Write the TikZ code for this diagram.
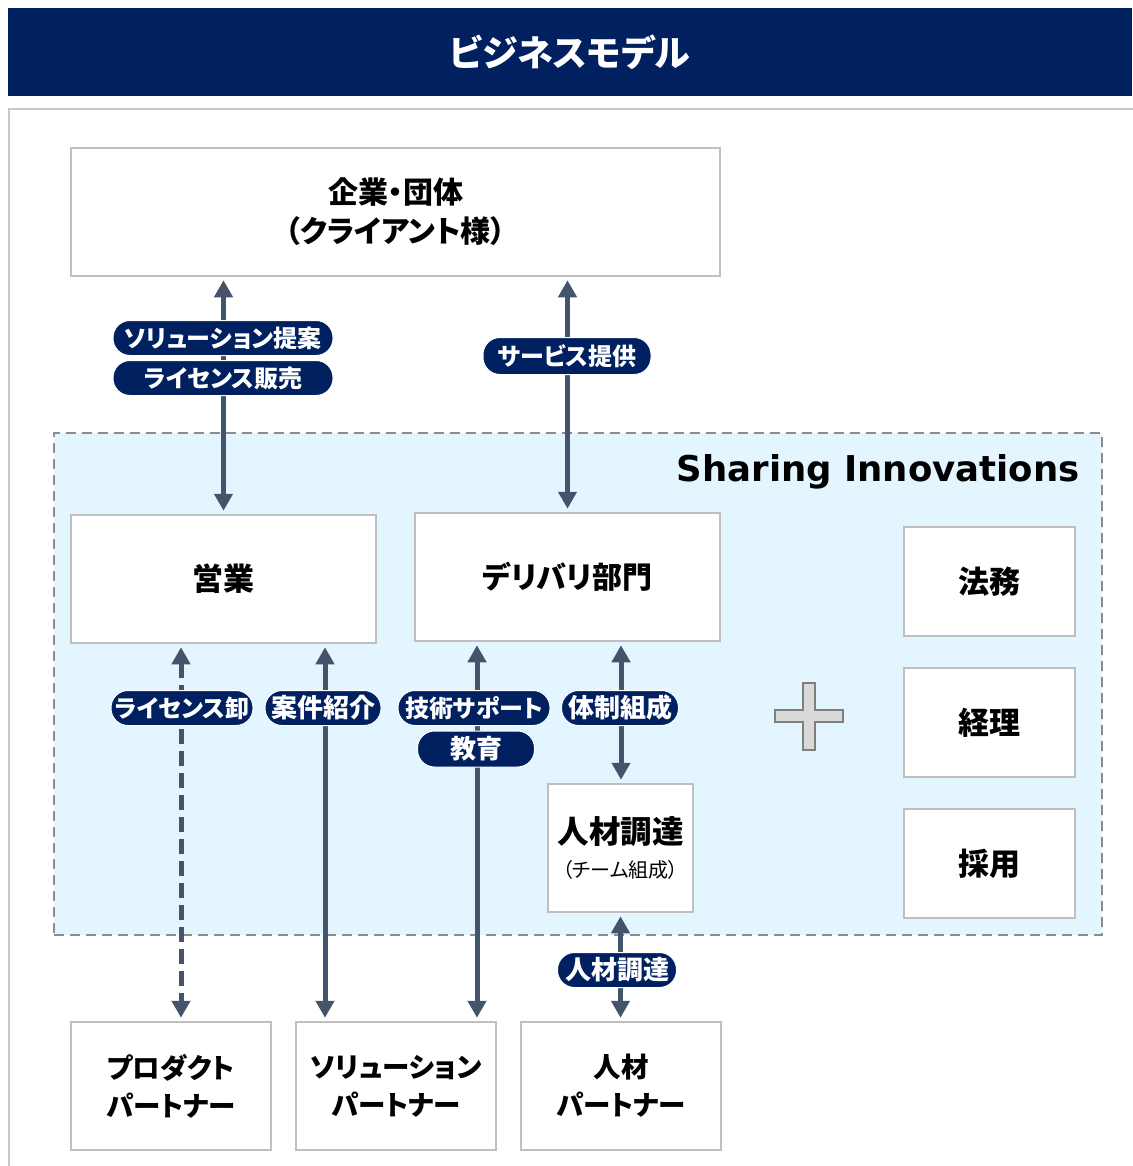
\documentclass[tikz,border=0pt]{standalone}
\usepackage{fontspec}
\setmainfont{Noto Sans CJK JP}[RawFeature=+palt]
\newfontfamily\latinfont{DejaVu Sans}
\usetikzlibrary{arrows.meta}
\definecolor{navy}{HTML}{002060}
\definecolor{arrowc}{HTML}{44546A}
\definecolor{boxgray}{HTML}{BFBFBF}
\definecolor{lightblue}{HTML}{E3F5FE}
\definecolor{dashgray}{HTML}{8C8C8C}
\definecolor{framegray}{HTML}{C8C8C8}
\definecolor{plusfill}{HTML}{D9D9D9}
\definecolor{plusdraw}{HTML}{7F7F7F}
\begin{document}
\begin{tikzpicture}[x=1pt,y=-1pt,
  box/.style={draw=boxgray,line width=2.5pt,fill=white,inner sep=0pt,align=center,
    font=\bfseries\fontsize{30}{39}\selectfont},
  bottombox/.style={box,minimum width=200pt,minimum height=128pt,font=\bfseries\fontsize{27.5}{38}\selectfont},
  sidebox/.style={box,minimum width=171pt,minimum height=109pt,font=\bfseries\fontsize{31}{39}\selectfont},
  pill/.style={fill=navy,draw=white,line width=1pt,rounded corners=17pt,text=white,
    font=\bfseries\fontsize{24}{28}\selectfont,inner sep=0pt,minimum height=35pt},
  kpill/.style={pill,font=\bfseries\fontsize{26}{28}\selectfont},
  arr/.style={draw=arrowc,line width=5pt,{Triangle[width=18pt,length=17pt]}-{Triangle[width=18pt,length=17pt]},
    shorten <=3pt,shorten >=3pt},
  dasharr/.style={arr,dash pattern=on 15pt off 7pt}
]
\useasboundingbox[fill=white] (0,0) rectangle (1132,1166);
% outer frame
\draw[framegray,line width=2.5pt] (9,1170) -- (9,109) -- (1140,109);
% title
\node[fill=navy,minimum width=1124pt,minimum height=88pt,inner sep=0pt,text=white,
  font=\bfseries\fontsize{36}{40}\selectfont] (title) at (570,52) {ビジネスモデル};
% company region
\node[draw=dashgray,line width=2.5pt,dash pattern=on 10pt off 6pt,fill=lightblue,
  minimum width=1048pt,minimum height=502pt,inner sep=0pt] (si) at (578,684) {};
\node[anchor=base east,font=\latinfont\bfseries\fontsize{35.5}{40}\selectfont] (silabel) at (1083,481) {Sharing Innovations};
% boxes
\node[box,minimum width=649pt,minimum height=128pt] (client) at (395.5,212) {企業・団体\\（クライアント様）};
\node[box,minimum width=305pt,minimum height=128pt,font=\bfseries\fontsize{31}{39}\selectfont] (sales) at (223.5,579) {営業};
\node[box,minimum width=305pt,minimum height=128pt] (deliv) at (567.5,577) {デリバリ部門};
\node[sidebox] (legal) at (989.5,581.5) {法務};
\node[sidebox] (acct) at (989.5,722.5) {経理};
\node[sidebox] (hire) at (989.5,863.5) {採用};
\node[box,minimum width=145pt,minimum height=128pt,font=\fontsize{20}{34}\selectfont] (jinzai) at (620.5,848)
  {{\bfseries\fontsize{31.5}{34}\selectfont 人材調達}\\{\mdseries\fontsize{20}{34}\selectfont （チーム組成）}};
\node[bottombox] (prod) at (171,1086) {プロダクト\\パートナー};
\node[bottombox] (sol) at (396,1086) {ソリューション\\パートナー};
\node[bottombox] (jpp) at (621,1086) {人材\\パートナー};
% plus sign
\draw[fill=plusfill,draw=plusdraw,line width=1.5pt] (775,710) -- (803,710) -- (803,683) -- (815,683)
  -- (815,710) -- (843,710) -- (843,722) -- (815,722) -- (815,750) -- (803,750) -- (803,722)
  -- (775,722) -- cycle;
% connectors
\draw[arr] (client.south -| sales.north) -- (sales.north);
\draw[arr] (client.south -| deliv.north) -- (deliv.north);
\draw[dasharr] ([xshift=-42.5pt]sales.south) -- ([xshift=-42.5pt]sales.south |- prod.north);
\draw[arr] ([xshift=101.5pt]sales.south) -- ([xshift=101.5pt]sales.south |- sol.north);
\draw[arr] ([xshift=-90.5pt]deliv.south) -- ([xshift=-90.5pt]deliv.south |- sol.north);
\draw[arr] ([xshift=53.5pt]deliv.south) -- ([xshift=53.5pt]deliv.south |- jinzai.north);
\draw[arr] (jinzai.south) -- (jinzai.south |- jpp.north);
% labels
\node[pill,minimum width=220pt] (p1) at (223,338) {ソリューション提案};
\node[pill,minimum width=220pt] (p2) at (223,378) {ライセンス販売};
\node[pill,minimum width=168pt,minimum height=37pt] (p3) at (567,356) {サービス提供};
\node[pill,minimum width=142pt] (p4) at (182,708) {ライセンス卸};
\node[kpill,minimum width=116pt] (p5) at (323,708) {案件紹介};
\node[pill,minimum width=152pt] (p6) at (474,708) {技術サポート};
\node[kpill,minimum width=117pt,minimum height=36pt] (p7) at (476,749) {教育};
\node[kpill,minimum width=117pt] (p8) at (620,708) {体制組成};
\node[kpill,minimum width=119pt] (p9) at (617,970) {人材調達};
\end{tikzpicture}
\end{document}
